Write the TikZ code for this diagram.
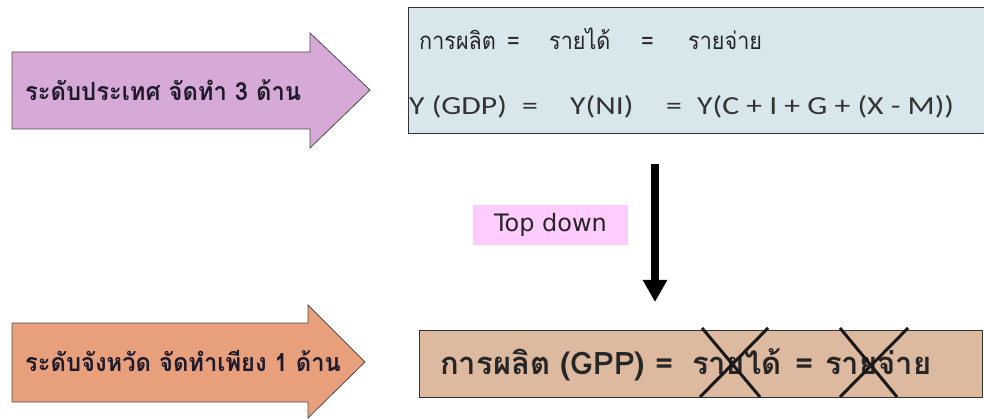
\documentclass[tikz,border=0pt]{standalone}
\usepackage{fontspec}
\usetikzlibrary{arrows.meta}
\newfontfamily\thaifont[Script=Thai]{Loma}
\newfontfamily\thainarrow[Script=Thai, FakeStretch=0.9]{Loma}
\newfontfamily\thaiarrowfont[Script=Thai, FakeStretch=0.95]{Loma}
\newfontfamily\calfont[FakeStretch=1.22]{Carlito}
\newfontfamily\tahfont{DejaVu Sans}
\definecolor{arrowpurple}{HTML}{D6A9D6}
\definecolor{arroworange}{HTML}{E8A07C}
\definecolor{boxblue}{HTML}{D7E7EB}
\definecolor{boxtan}{HTML}{DDB9A0}
\definecolor{labelpink}{HTML}{FFCCFF}
\definecolor{inkdark}{HTML}{1E1A2C}
\tikzset{
  levelarrow/.style={draw=black!70, line width=0.8pt},
  leveltext/.style={anchor=west, inner sep=0pt, text=inkdark,
    font=\thaiarrowfont\bfseries\fontsize{25}{28}\selectfont},
  sumbox/.style={draw=black!80, line width=1.2pt, inner sep=0pt, anchor=north west},
  thairow/.style={anchor=base west, inner sep=0pt, text=black!85,
    font=\thainarrow\fontsize{24}{28}\selectfont},
  latinrow/.style={anchor=base west, inner sep=0pt, text=black!80,
    font=\calfont\fontsize{26}{30}\selectfont},
  gpptext/.style={anchor=base west, inner sep=0pt, text=black!85,
    font=\thaifont\bfseries\fontsize{31}{34}\selectfont},
  downarrow/.style={line width=8pt, -{Triangle[width=23pt 0, length=22pt 0 0]}},
  crossline/.style={line width=3pt, black!90},
}
\begin{document}
\begin{tikzpicture}[x=1pt,y=-1pt]
\useasboundingbox (0,0) rectangle (984,419);
% national level
\draw[levelarrow, fill=arrowpurple] (12,52) -- (310,52) -- (310,33) -- (370,90)
  -- (310,148) -- (310,129) -- (12,129) -- cycle;
\node[leveltext] (nation) at (25,90) {ระดับประเทศ จัดทำ 3 ด้าน};
\node[sumbox, fill=boxblue, minimum width=580pt, minimum height=126pt] (gdpbox) at (408,7) {};
\node[thairow] (prod) at (419,50) {การผลิต};
\node[thairow] (eqa) at (507,50) {=};
\node[thairow] (inc) at (549,50) {รายได้};
\node[thairow] (eqb) at (641,50) {=};
\node[thairow] (exp) at (688,50) {รายจ่าย};
\node[latinrow] (gdp) at (409,115) {Y (GDP)};
\node[latinrow] (eqc) at (522,115) {=};
\node[latinrow] (ni) at (570,115) {Y(NI)};
\node[latinrow] (eqd) at (666,115) {=};
\node[latinrow] (cig) at (697,115) {Y(C + I + G + (X - M))};
% top down
\coordinate (axis) at (655,0);
\node[sumbox, fill=boxtan, minimum width=563pt, minimum height=67pt] (gppbox) at (419,330) {};
\draw[downarrow, shorten <=30pt, shorten >=28pt] (gdpbox.south -| axis) -- (gppbox.north -| axis);
\node[fill=labelpink, minimum width=155pt, minimum height=40pt, text=black!85,
  font=\tahfont\fontsize{24}{26}\selectfont] (topdown) at (550.5,225) {Top down};
% province level
\draw[levelarrow, fill=arroworange] (12,323) -- (308,323) -- (308,305) -- (365,362)
  -- (308,418) -- (308,402) -- (12,402) -- cycle;
\node[leveltext] (province) at (25,361) {ระดับจังหวัด จัดทำเพียง 1 ด้าน};
\node[gpptext] (gpp) at (440,374) {การผลิต (GPP)};
\node[gpptext] (eqe) at (655,374) {=};
\node[gpptext] (gppinc) at (692,374) {รายได้};
\node[gpptext] (eqf) at (795,374) {=};
\node[gpptext] (gppexp) at (825,374) {รายจ่าย};
\draw[crossline] (702,328) -- (760,397) (768,328) -- (700,397);
\draw[crossline] (840,328) -- (897,397) (908,328) -- (840,397);
\end{tikzpicture}
\end{document}
